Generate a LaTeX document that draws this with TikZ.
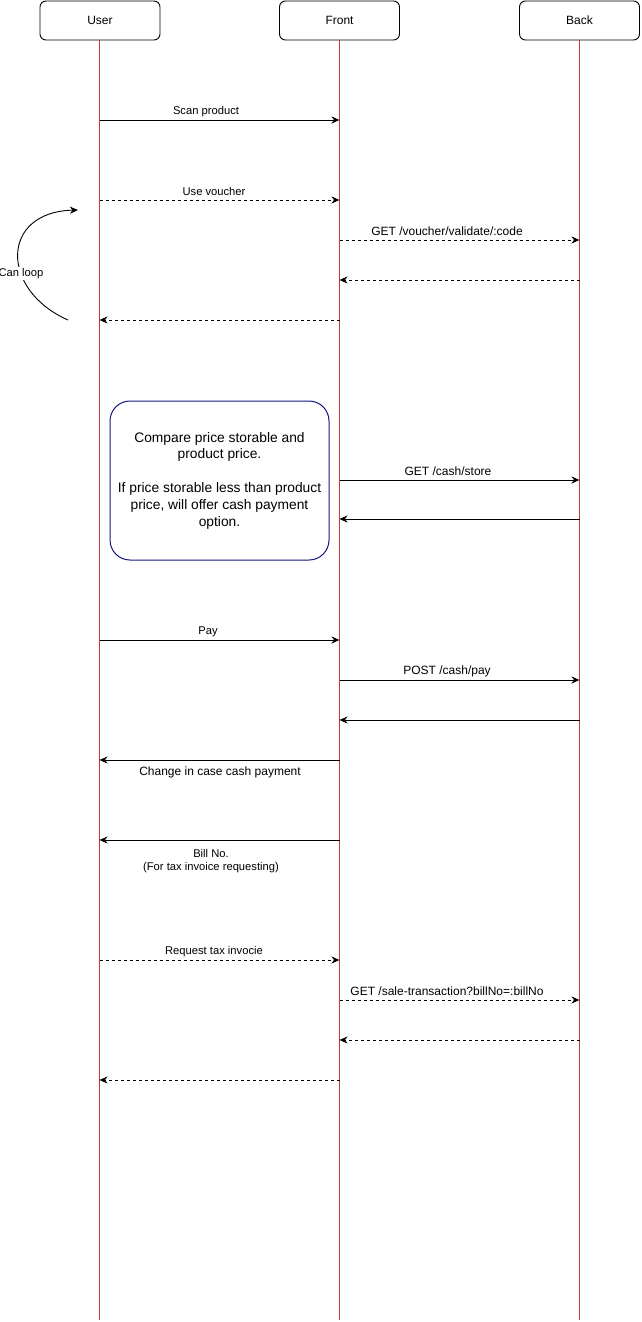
\documentclass[tikz,border=0pt]{standalone}
\usepackage{fontspec}
\setmainfont{Liberation Sans}
\usetikzlibrary{arrows.meta}
\definecolor{lifered}{rgb}{0.80,0.22,0.22}
\definecolor{boxnavy}{rgb}{0.08,0.08,0.5}
\begin{document}
\begin{tikzpicture}[x=1pt,y=-1pt,
  actor/.style={draw=black,line width=0.9pt,rounded corners=6pt,minimum width=120pt,minimum height=39pt,inner sep=0pt,font=\fontsize{12}{14}\selectfont},
  lifeline/.style={draw=lifered,line width=1pt},
  msg/.style={draw=black,line width=0.9pt,-{Stealth[length=8pt,width=7pt,inset=2.5pt]}},
  dmsg/.style={msg,dash pattern=on 3pt off 3pt},
  lblS/.style={inner sep=0pt,font=\fontsize{11.2}{13.5}\selectfont},
  lblM/.style={inner sep=0pt,font=\fontsize{12}{14}\selectfont,align=center},
  notebox/.style={draw=boxnavy,line width=1pt,rounded corners=20pt,minimum width=219pt,minimum height=159pt,inner sep=0pt,align=center,font=\fontsize{13.8}{16.8}\selectfont}
]
\useasboundingbox (0,0) rectangle (641,1322);
% actors
\node[actor] (user) at (100,20.5) {User};
\node[actor] (front) at (339.5,20.5) {Front};
\node[actor] (back) at (579.5,20.5) {Back};
\coordinate (userTop) at (99.5,40);
\coordinate (frontTop) at (339.5,40);
\coordinate (backTop) at (579.5,40);
\coordinate (userEnd) at (99.5,1320);
\coordinate (frontEnd) at (339.5,1320);
\coordinate (backEnd) at (579.5,1320);
\draw[lifeline] (userTop) -- (userEnd);
\draw[lifeline] (frontTop) -- (frontEnd);
\draw[lifeline] (backTop) -- (backEnd);
% message coordinates
\foreach \y in {120,200,240,280,320,480,519,640,680,720,760,840,960,1000,1040,1080} {
  \coordinate (U\y) at (99.5,\y);
  \coordinate (F\y) at (339.5,\y);
  \coordinate (B\y) at (579.5,\y);
}
% voucher block
\draw[msg] (U120) -- (F120);
\node[lblS] (l1) at (206,111.5) {Scan product};
\draw[dmsg] (U200) -- (F200);
\node[lblS] (l2) at (214,191.5) {Use voucher};
\draw[dmsg] (F240) -- (B240);
\node[lblM] (l3) at (447,231.5) {GET /voucher/validate/:code};
\draw[dmsg] (B280) -- (F280);
\draw[dmsg] (F320) -- (U320);
% loop curve
\coordinate (loopA) at (68,320);
\coordinate (loopB) at (78,210);
\draw[line width=0.9pt,-{Stealth[length=8pt,width=7pt,inset=2.5pt]}] (loopA) .. controls (0,290) and (0,212) .. (loopB);
\node[lblS,fill=white,inner sep=1pt] (loopl) at (21,273.5) {Can loop};
% note box
\node[notebox] (note) at (219.5,480.5) {Compare price storable and\\product price.\\[16.8pt]If price storable less than product\\price, will offer cash payment\\option.};
\draw[msg] (F480) -- (B480);
\node[lblM] (l4) at (448,471) {GET /cash/store};
\draw[msg] (B519) -- (F519);
% pay block
\draw[msg] (U640) -- (F640);
\node[lblS] (l5) at (208,631.5) {Pay};
\draw[msg] (F680) -- (B680);
\node[lblM] (l6) at (447,671.5) {POST /cash/pay};
\draw[msg] (B720) -- (F720);
\draw[msg] (F760) -- (U760);
\node[lblM] (l7) at (220,772.5) {Change in case cash payment};
\draw[msg] (F840) -- (U840);
\node[lblS,align=center] (l8) at (211,861) {Bill No.\\(For tax invoice requesting)};
% tax invoice block
\draw[dmsg] (U960) -- (F960);
\node[lblS] (l9) at (214,951.5) {Request tax invocie};
\draw[dmsg] (F1000) -- (B1000);
\node[lblM] (l10) at (447,991) {GET /sale-transaction?billNo=:billNo};
\draw[dmsg] (B1040) -- (F1040);
\draw[dmsg] (F1080) -- (U1080);
\end{tikzpicture}
\end{document}
